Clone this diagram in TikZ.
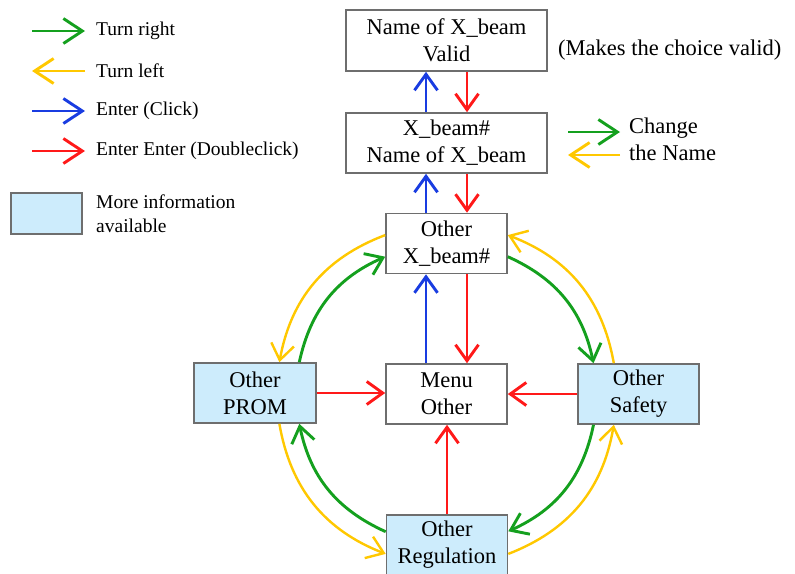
\documentclass[tikz,border=0pt]{standalone}
\usepackage{fontspec}
\setmainfont{Liberation Serif}
\usetikzlibrary{arrows.meta,calc}
\definecolor{tgreen}{RGB}{20,160,30}
\definecolor{tyellow}{RGB}{255,200,0}
\definecolor{tblue}{RGB}{25,60,225}
\definecolor{tred}{RGB}{255,25,25}
\definecolor{infofill}{RGB}{205,236,252}
\definecolor{boxline}{RGB}{110,110,110}
\begin{document}
\begin{tikzpicture}[x=1pt,y=-1pt,
  box/.style={draw=boxline, line width=1.6pt, fill=white, minimum width=121pt,
    minimum height=60pt, inner sep=0pt, align=center,
    font=\fontsize{22.5}{27}\selectfont},
  info/.style={box, fill=infofill},
  link/.style={line width=2.9pt, -{Straight Barb[length=16pt,width=23pt]}},
  keyarrow/.style={link, -{Straight Barb[length=19pt,width=25pt]}},
  legend/.style={inner sep=0pt, font=\fontsize{19.5}{24}\selectfont},
  note/.style={inner sep=0pt, font=\fontsize{22.5}{27}\selectfont}]
\useasboundingbox (0,0) rectangle (795,573);
\clip (0,0) rectangle (795,573);
\fill[white] (0,0) rectangle (795,573);

% menu boxes
\node[box, minimum width=201pt, minimum height=61pt] (valid) at (446.5,40.5) {Name of X\_beam\\Valid};
\node[box, minimum width=201pt] (xname) at (446.5,143) {X\_beam\#\\Name of X\_beam};
\node[box] (xo) at (446.5,243.5) {Other\\X\_beam\#};
\node[box] (menu) at (446.5,394) {Menu\\Other};
\node[info, minimum width=122pt] (prom) at (255,393) {Other\\PROM};
\node[info] (safety) at (638.5,394) {Other\\Safety};
\node[info] (reg) at (447,545) {Other\\Regulation};

% enter / double click along the vertical chain
\draw[link,tblue] ([xshift=-20.5pt]xname.north) -- ([xshift=-20.5pt]valid.south);
\draw[link,tred] ([xshift=20.5pt]valid.south) -- ([xshift=20.5pt]xname.north);
\draw[link,tblue] ([xshift=-20.5pt]xo.north) -- ([xshift=-20.5pt]xname.south);
\draw[link,tred] ([xshift=20.5pt]xname.south) -- ([xshift=20.5pt]xo.north);
\draw[link,tblue] ([xshift=-20.5pt]menu.north) -- ([xshift=-20.5pt]xo.south);
\draw[link,tred] ([xshift=20.5pt]xo.south) -- ([xshift=20.5pt]menu.north);

% double click back to the menu
\draw[link,tred] (prom.east) -- (prom.east -| menu.west);
\draw[link,tred] (safety.west) -- (menu.east);
\draw[link,tred] (reg.north) -- (reg.north |- menu.south);

% turn right (clockwise ring)
\draw[link,tgreen] ([yshift=-13.2pt]xo.east) to[bend left=27] ([xshift=-45pt]safety.north);
\draw[link,tgreen] ([xshift=-45pt]safety.south) to[bend left=27] ([yshift=13.7pt]reg.east);
\draw[link,tgreen] ([yshift=13.3pt]reg.west) to[bend left=27] ([xshift=44.3pt]prom.south);
\draw[link,tgreen] ([xshift=44.3pt]prom.north) to[bend left=27] ([yshift=-13.2pt]xo.west);

% turn left (counter-clockwise ring)
\draw[link,tyellow,line width=2.4pt] ([xshift=-24.7pt]safety.north) to[bend right=29.5] ([yshift=8.4pt]xo.east);
\draw[link,tyellow,line width=2.4pt] ([yshift=8.4pt]xo.west) to[bend right=29.5] ([xshift=24.4pt]prom.north);
\draw[link,tyellow,line width=2.4pt] ([xshift=24.4pt]prom.south) to[bend right=29.5] ([yshift=-8.9pt]reg.west);
\draw[link,tyellow,line width=2.4pt] ([yshift=-8.9pt]reg.east) to[bend right=29.5] ([xshift=-24.7pt]safety.south);

% notes
\node[note, anchor=west] (valnote) at (558,50) {(Makes the choice valid)};
\node[note, anchor=west, align=left] (chg) at (629,139) {Change\\the Name};
\draw[keyarrow,tgreen] ([xshift=-61pt,yshift=7pt]chg.west) -- ([xshift=-9pt,yshift=7pt]chg.west);
\draw[keyarrow,tyellow] ([xshift=-9pt,yshift=-16pt]chg.west) -- ([xshift=-61pt,yshift=-16pt]chg.west);

% legend
\node[legend, anchor=west] (l1) at (96,31) {Turn right};
\node[legend, anchor=west] (l2) at (96,71) {Turn left};
\node[legend, anchor=west] (l3) at (96,111) {Enter (Click)};
\node[legend, anchor=west] (l4) at (96,151) {Enter Enter (Doubleclick)};
\draw[keyarrow,tgreen] ([xshift=-64pt]l1.west) -- ([xshift=-11pt]l1.west);
\draw[keyarrow,tyellow] ([xshift=-11pt]l2.west) -- ([xshift=-64pt]l2.west);
\draw[keyarrow,tblue] ([xshift=-64pt]l3.west) -- ([xshift=-11pt]l3.west);
\draw[keyarrow,tred] ([xshift=-64pt]l4.west) -- ([xshift=-11pt]l4.west);
\node[info, minimum width=71pt, minimum height=41pt] (lbox) at (46.5,213.5) {};
\node[legend, anchor=west, align=left] (l5) at (96,214) {More information\\available};
\end{tikzpicture}
\end{document}
